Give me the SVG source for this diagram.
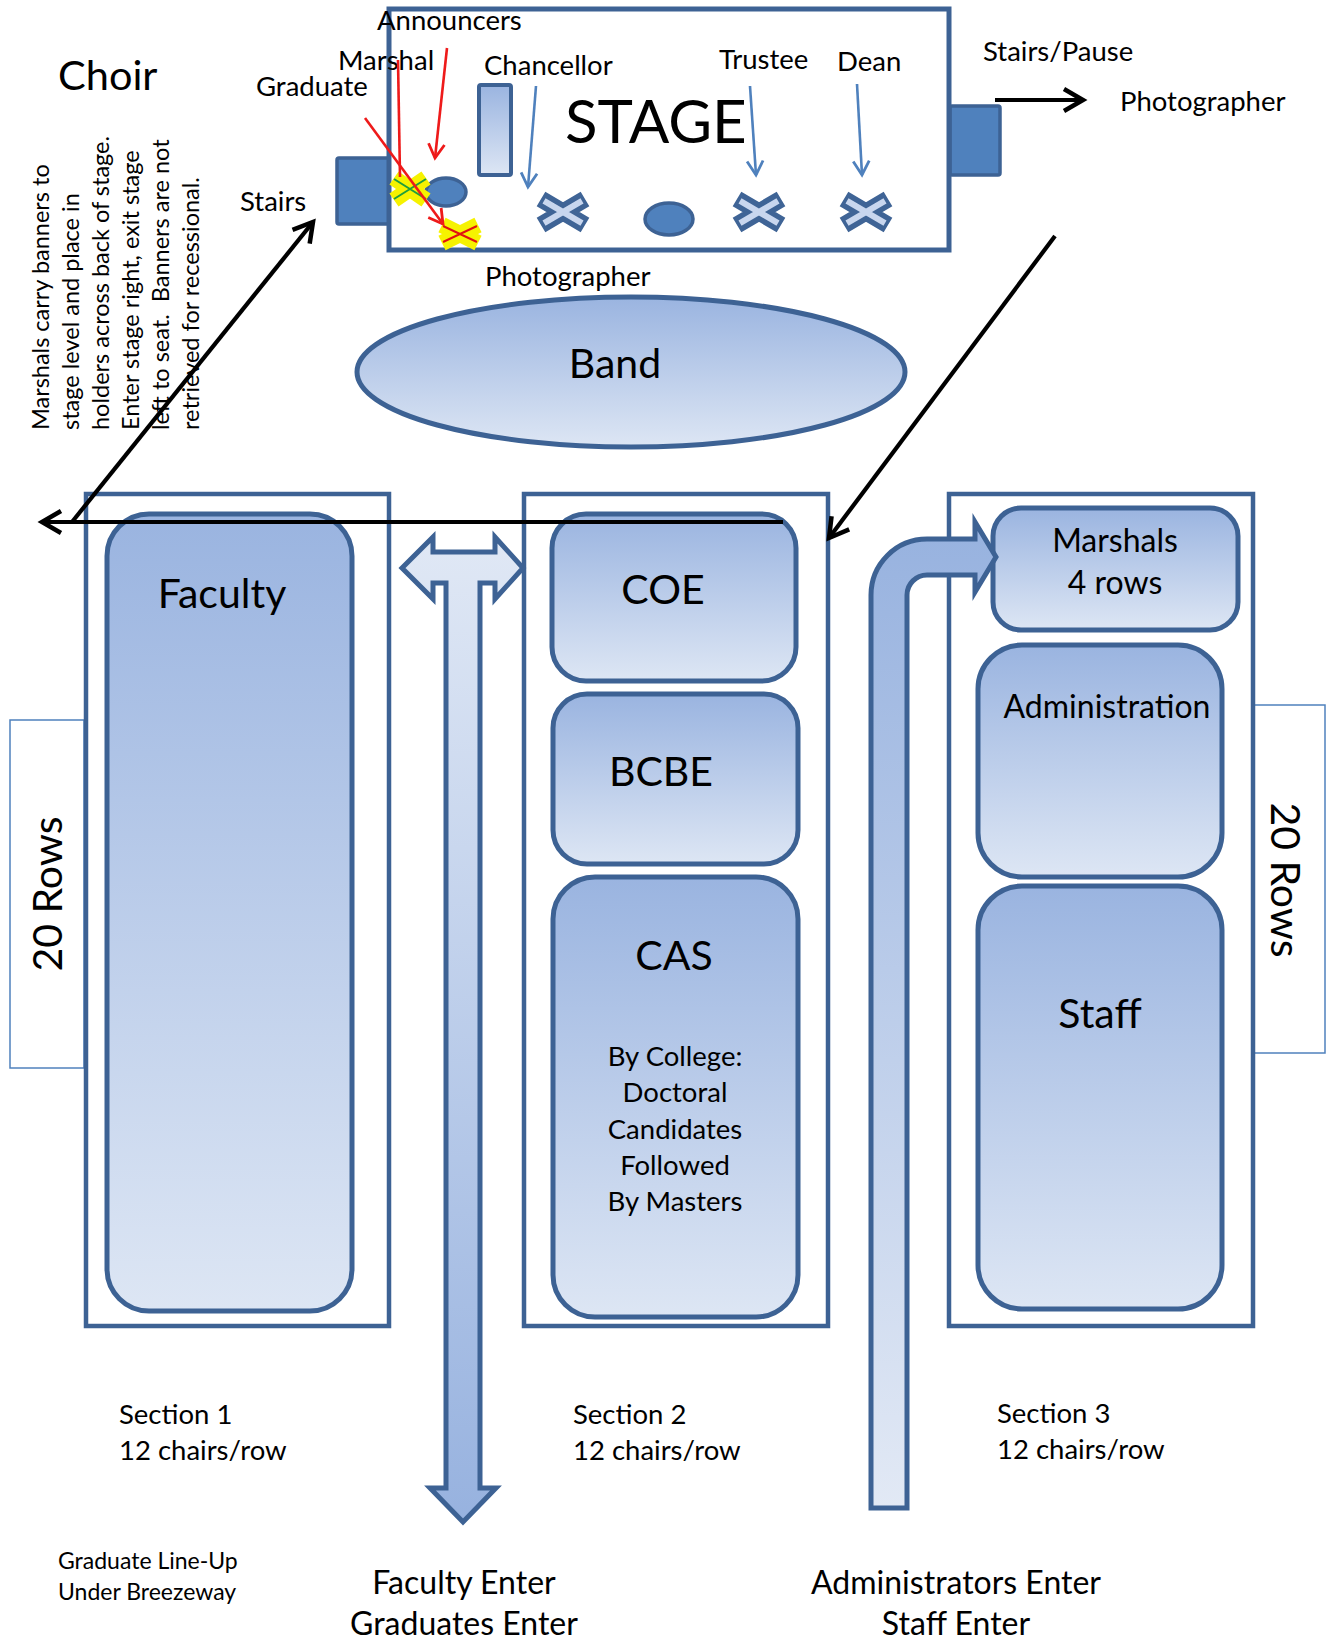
<svg xmlns="http://www.w3.org/2000/svg" width="1328" height="1644" viewBox="0 0 1328 1644">
<style>
text{font-family:Lato,"Liberation Sans",sans-serif;fill:#000}
.lb{font-size:27.5px}
.big{font-size:41px}
.mid{font-size:32px}
.sm{font-size:23px}
.rot{font-size:23.5px}
.sec{fill:#fff;stroke:#3d6294;stroke-width:4.5}
.box{fill:url(#g);stroke:#3d6294;stroke-width:5}
.rows{fill:#fff;stroke:#4f81bd;stroke-width:1.5}
.solid{fill:#4f81bd;stroke:#3d6294;stroke-width:3.5}
.bk{stroke:#000;stroke-width:4.2;fill:none}
.rd{stroke:#ee1a1a;stroke-width:2.6;fill:none}
.bl{stroke:#4f81bd;stroke-width:2.6;fill:none}
.xd{stroke:#3f6496;stroke-width:17;fill:none}
.xl{stroke:#c8d6ee;stroke-width:6;fill:none}
.xy{stroke:#f6f200;stroke-width:16;fill:none}
</style>
<defs>
<linearGradient id="g" x1="0" y1="0" x2="0" y2="1"><stop offset="0" stop-color="#9ab4e0"/><stop offset="1" stop-color="#dde6f4"/></linearGradient>
<linearGradient id="gt" x1="0" y1="0" x2="0" y2="1"><stop offset="0" stop-color="#e0e8f5"/><stop offset="1" stop-color="#97b2df"/></linearGradient>
<linearGradient id="gb" x1="0" y1="0" x2="0" y2="1"><stop offset="0" stop-color="#97b2df"/><stop offset="1" stop-color="#e2e9f5"/></linearGradient>
<marker id="mb" markerUnits="userSpaceOnUse" markerWidth="34" markerHeight="32" viewBox="0 0 34 32" refX="24" refY="16" orient="auto"><path d="M5,5 L24,16 L5,27" fill="none" stroke="#000" stroke-width="4.5"/></marker>
<marker id="mr" markerUnits="userSpaceOnUse" markerWidth="24" markerHeight="24" viewBox="0 0 24 24" refX="17" refY="12" orient="auto"><path d="M3,4 L17,12 L3,20" fill="none" stroke="#ee1a1a" stroke-width="2.8"/></marker>
<marker id="mbl" markerUnits="userSpaceOnUse" markerWidth="24" markerHeight="24" viewBox="0 0 24 24" refX="17" refY="12" orient="auto"><path d="M3,4 L17,12 L3,20" fill="none" stroke="#4f81bd" stroke-width="2.8"/></marker>
</defs>
<rect width="1328" height="1644" fill="#fff"/>

<g id="choir"><text class="big" x="58" y="90" style="font-size:41.5px">Choir</text></g>

<g id="stage">
<rect class="solid" x="337" y="158" width="52" height="66" rx="2"/>
<rect class="solid" x="950" y="106" width="50" height="69" rx="2"/>
<rect x="389" y="9" width="560" height="241" fill="#fff" stroke="#3d6294" stroke-width="5"/>
<text x="565" y="143" style="font-size:60px">STAGE</text>
<rect x="479" y="85" width="32" height="90" rx="2" fill="url(#g)" stroke="#3d6294" stroke-width="4"/>
<ellipse class="solid" cx="446" cy="192" rx="20" ry="14"/>
<ellipse class="solid" cx="669" cy="219" rx="24" ry="16"/>
<g transform="translate(563,212)"><path class="xd" d="M-22,-13 L22,13 M-22,13 L22,-13"/><path class="xl" d="M-19,-11.2 L19,11.2 M-19,11.2 L19,-11.2"/></g>
<g transform="translate(759,212)"><path class="xd" d="M-22,-13 L22,13 M-22,13 L22,-13"/><path class="xl" d="M-19,-11.2 L19,11.2 M-19,11.2 L19,-11.2"/></g>
<g transform="translate(866,212)"><path class="xd" d="M-22,-13 L22,13 M-22,13 L22,-13"/><path class="xl" d="M-19,-11.2 L19,11.2 M-19,11.2 L19,-11.2"/></g>
<g transform="translate(410,189)"><path class="xy" d="M-16,-11 L16,11 M-16,11 L16,-11"/><path d="M-16,-10 L16,10 M-16,10 L16,-10" stroke="#1f9e3c" stroke-width="2" fill="none"/></g>
<g transform="translate(460,234)"><path class="xy" d="M-18,-9 L18,9 M-18,9 L18,-9"/><path d="M-17,-8 L17,8 M-17,8 L17,-8" stroke="#e01010" stroke-width="2" fill="none"/></g>
</g>

<g id="stage-labels">
<text class="lb" x="377" y="30">Announcers</text>
<text class="lb" x="338" y="70">Marshal</text>
<text class="lb" x="256" y="96">Graduate</text>
<text class="lb" x="484" y="75">Chancellor</text>
<text class="lb" x="719" y="69">Trustee</text>
<text class="lb" x="837" y="71">Dean</text>
<text class="lb" x="983" y="61">Stairs/Pause</text>
<text class="lb" x="1120" y="111">Photographer</text>
<text class="lb" x="240" y="211">Stairs</text>
<text class="lb" x="485" y="286">Photographer</text>
</g>

<g id="marshal-note">
<text class="rot" transform="translate(49,430) rotate(-90)">Marshals carry banners to</text>
<text class="rot" transform="translate(79,430) rotate(-90)">stage level and place in</text>
<text class="rot" transform="translate(109,430) rotate(-90)">holders across back of stage.</text>
<text class="rot" transform="translate(139,430) rotate(-90)">Enter stage right, exit stage</text>
<text class="rot" transform="translate(169,430) rotate(-90)" xml:space="preserve">left to seat.  Banners are not</text>
<text class="rot" transform="translate(199,430) rotate(-90)">retrieved for recessional.</text>
</g>

<g id="band">
<ellipse cx="631" cy="372" rx="274" ry="75" fill="url(#g)" stroke="#3d6294" stroke-width="5"/>
<text class="big" x="615" y="378" text-anchor="middle">Band</text>
</g>

<g id="rows-left">
<rect class="rows" x="10" y="720" width="74" height="348"/>
<text class="big" transform="translate(62,894) rotate(-90)" text-anchor="middle">20 Rows</text>
</g>
<g id="rows-right">
<rect class="rows" x="1254" y="705" width="71" height="348"/>
<text class="big" transform="translate(1271,880) rotate(90)" text-anchor="middle">20 Rows</text>
</g>

<g id="section1">
<rect class="sec" x="86" y="494" width="303" height="832"/>
<g id="faculty"><rect class="box" x="107" y="514" width="245" height="797" rx="42"/>
<text class="big" x="222" y="608" text-anchor="middle">Faculty</text></g>
</g>

<g id="section2">
<rect class="sec" x="524" y="494" width="304" height="832"/>
<g id="coe"><rect class="box" x="552" y="514" width="244" height="167" rx="34"/>
<text class="big" x="663" y="604" text-anchor="middle">COE</text></g>
<g id="bcbe"><rect class="box" x="553" y="694" width="245" height="170" rx="34"/>
<text class="big" x="661" y="786" text-anchor="middle">BCBE</text></g>
<g id="cas"><rect class="box" x="553" y="877" width="245" height="440" rx="42"/>
<text class="big" x="674" y="970" text-anchor="middle">CAS</text>
<text class="lb" text-anchor="middle"><tspan x="675" y="1066">By College:</tspan><tspan x="675" y="1102">Doctoral</tspan><tspan x="675" y="1139">Candidates</tspan><tspan x="675" y="1175">Followed</tspan><tspan x="675" y="1211">By Masters</tspan></text></g>
</g>

<g id="section3">
<rect class="sec" x="949" y="494" width="304" height="832"/>
<g id="marshals"><rect class="box" x="993" y="508" width="245" height="122" rx="28"/>
<text class="mid" x="1115" y="552" text-anchor="middle">Marshals</text>
<text class="mid" x="1115" y="594" text-anchor="middle">4 rows</text></g>
<g id="administration"><rect class="box" x="978" y="645" width="244" height="232" rx="44"/>
<text class="mid" x="1107" y="718" text-anchor="middle">Administration</text></g>
<g id="staff"><rect class="box" x="978" y="886" width="244" height="423" rx="44"/>
<text class="big" x="1100" y="1028" text-anchor="middle">Staff</text></g>
</g>

<g id="aisle-left">
<path d="M402,568 L433,537 L433,552 L495,552 L495,537 L523,568 L495,599 L495,583 L480,583 L480,1488 L496,1488 L463,1522 L430,1488 L446,1488 L446,583 L433,583 L433,599 Z" fill="url(#gt)" stroke="#3d6294" stroke-width="5" stroke-linejoin="miter"/>
</g>
<g id="aisle-right">
<path d="M871,1508 L871,595 A56,56 0 0 1 927,539 L975,539 L975,522 L996,557 L975,592 L975,575 L927,575 A20,20 0 0 0 907,595 L907,1508 Z" fill="url(#gb)" stroke="#3d6294" stroke-width="5" stroke-linejoin="miter"/>
</g>

<g id="footer-labels">
<text class="lb" x="119" y="1424">Section 1</text>
<text class="lb" x="119" y="1460">12 chairs/row</text>
<text class="lb" x="573" y="1424">Section 2</text>
<text class="lb" x="573" y="1460">12 chairs/row</text>
<text class="lb" x="997" y="1423">Section 3</text>
<text class="lb" x="997" y="1459">12 chairs/row</text>
<text class="sm" x="58" y="1569">Graduate Line-Up</text>
<text class="sm" x="58" y="1600">Under Breezeway</text>
<text class="mid" x="464" y="1594" text-anchor="middle">Faculty Enter</text>
<text class="mid" x="464" y="1635" text-anchor="middle">Graduates Enter</text>
<text class="mid" x="956" y="1594" text-anchor="middle">Administrators Enter</text>
<text class="mid" x="956" y="1635" text-anchor="middle">Staff Enter</text>
</g>

<g id="connectors">
<line class="rd" x1="447" y1="48" x2="435" y2="158" marker-end="url(#mr)"/>
<line class="rd" x1="398" y1="60" x2="400" y2="177"/>
<line class="rd" x1="365" y1="118" x2="443" y2="224" marker-end="url(#mr)"/>
<line class="bl" x1="536" y1="86" x2="528" y2="187" marker-end="url(#mbl)"/>
<line class="bl" x1="750" y1="86" x2="756" y2="175" marker-end="url(#mbl)"/>
<line class="bl" x1="857" y1="84" x2="862" y2="175" marker-end="url(#mbl)"/>
<line class="bk" x1="995" y1="100" x2="1083" y2="100" marker-end="url(#mb)"/>
<line class="bk" x1="1055" y1="236" x2="829" y2="538" marker-end="url(#mb)"/>
<line class="bk" x1="783" y1="522" x2="42" y2="522" marker-end="url(#mb)"/>
<line class="bk" x1="72" y1="522" x2="313" y2="222" marker-end="url(#mb)"/>
</g>
</svg>
